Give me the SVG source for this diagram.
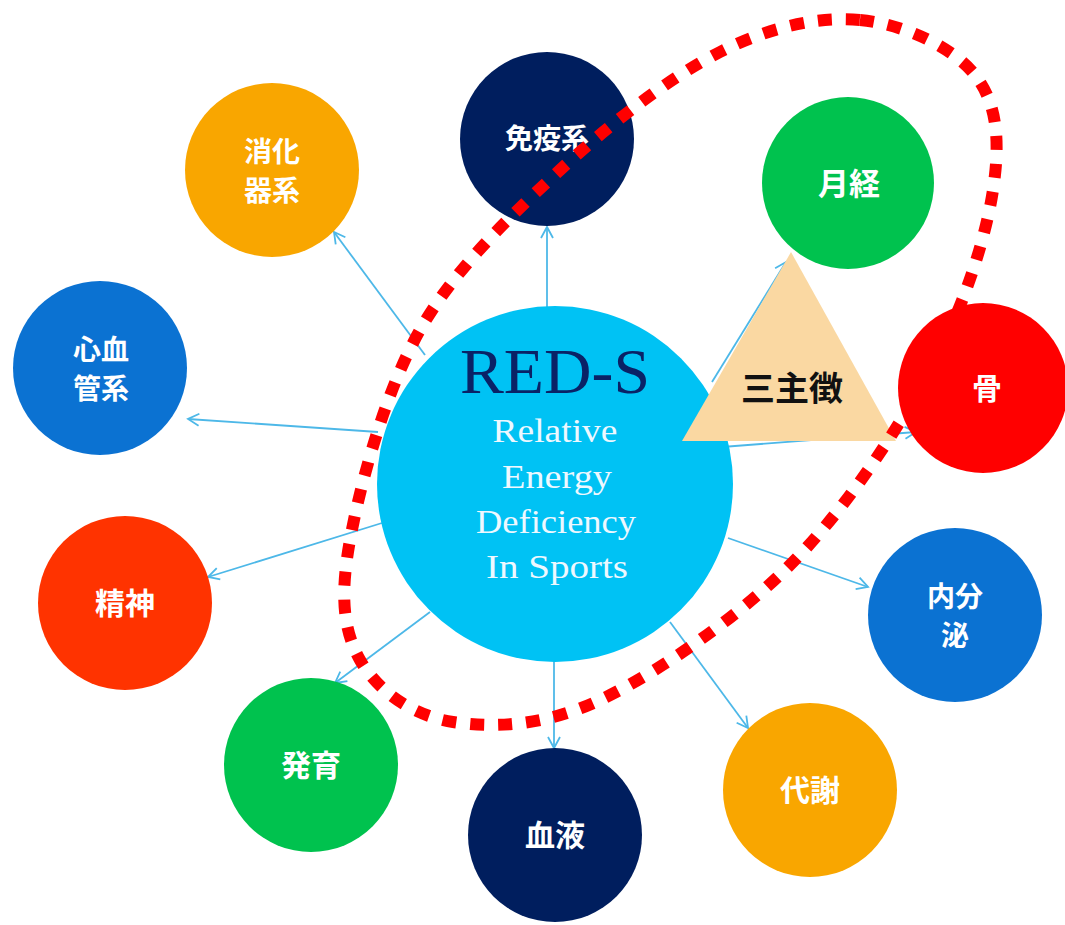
<svg xmlns="http://www.w3.org/2000/svg" width="1065" height="925" viewBox="0 0 1065 925">
<defs>
<marker id="ah" markerUnits="userSpaceOnUse" markerWidth="16" markerHeight="16" refX="13" refY="8" orient="auto">
<path d="M2,2 L13,8 L2,14" fill="none" stroke="#4db8e8" stroke-width="1.8"/>
</marker>
</defs>
<style>
.conn line{stroke:#4db8e8;stroke-width:1.8;fill:none;marker-end:url(#ah)}
.jp{font-family:"Noto Sans CJK JP","Noto Sans CJK SC",sans-serif;font-weight:700;fill:#fff;text-anchor:middle}
.en{font-family:"Liberation Serif",serif;fill:#eef8ff;text-anchor:middle;font-size:33px}
.navy{fill:#001e5e}.orange{fill:#f9a600}.green{fill:#00c24e}.blue{fill:#0b72d2}
</style>
<rect width="1065" height="925" fill="#fff"/>
<g id="connectors" class="conn">
<line x1="425" y1="355" x2="334" y2="232"/>
<line x1="547" y1="310" x2="547" y2="227"/>
<line x1="712" y1="382" x2="786" y2="262"/>
<line x1="722" y1="447" x2="916" y2="432"/>
<line x1="378" y1="432" x2="188" y2="419"/>
<line x1="382" y1="523" x2="208" y2="577"/>
<line x1="430" y1="612" x2="335" y2="683"/>
<line x1="554" y1="660" x2="554" y2="748"/>
<line x1="670" y1="622" x2="748" y2="728"/>
<line x1="728" y1="538" x2="868" y2="587"/>
</g>
<g id="center">
<circle cx="555" cy="484" r="178" fill="#00c2f4"/>
<text x="555" y="393" font-family="'Liberation Serif',serif" font-size="64" fill="#0a2266" text-anchor="middle" textLength="190" lengthAdjust="spacingAndGlyphs">RED-S</text>
<text class="en" x="555" y="442" textLength="125" lengthAdjust="spacingAndGlyphs">Relative</text>
<text class="en" x="557" y="488" textLength="110" lengthAdjust="spacingAndGlyphs">Energy</text>
<text class="en" x="556" y="533" textLength="160" lengthAdjust="spacingAndGlyphs">Deficiency</text>
<text class="en" x="557" y="578" textLength="142" lengthAdjust="spacingAndGlyphs">In Sports</text>
</g>
<g id="n-shoka"><circle cx="272" cy="170" r="87" class="orange"/><text class="jp" font-size="28"><tspan x="272" y="162">消化</tspan><tspan x="272" y="201">器系</tspan></text></g>
<g id="n-meneki"><circle cx="547" cy="139" r="87" class="navy"/><text class="jp" x="547" y="149" font-size="28">免疫系</text></g>
<g id="n-gekkei"><circle cx="848" cy="183" r="86" class="green"/><text class="jp" x="849" y="195" font-size="31">月経</text></g>
<g id="n-shinkekkan"><circle cx="100" cy="368" r="87" class="blue"/><text class="jp" font-size="28"><tspan x="101" y="360">心血</tspan><tspan x="101" y="399">管系</tspan></text></g>
<g id="n-hone"><circle cx="983" cy="388" r="85" fill="#ff0000"/><text class="jp" x="987" y="399" font-size="30">骨</text></g>
<g id="n-seishin"><circle cx="125" cy="603" r="87" fill="#ff3300"/><text class="jp" x="125" y="614" font-size="30">精神</text></g>
<g id="n-naibunpi"><circle cx="955" cy="615" r="87" class="blue"/><text class="jp" font-size="28"><tspan x="955" y="607">内分</tspan><tspan x="955" y="646">泌</tspan></text></g>
<g id="n-hatsuiku"><circle cx="311" cy="765" r="87" class="green"/><text class="jp" x="311" y="776" font-size="30">発育</text></g>
<g id="n-ketsueki"><circle cx="555" cy="835" r="87" class="navy"/><text class="jp" x="555" y="846" font-size="30">血液</text></g>
<g id="n-taisha"><circle cx="810" cy="790" r="87" class="orange"/><text class="jp" x="810" y="801" font-size="30">代謝</text></g>
<g id="triad">
<polygon points="791,252 682,441 896,441" fill="#fad8a2"/>
<text x="792" y="401" font-family="'Noto Sans CJK JP','Noto Sans CJK SC',sans-serif" font-weight="700" font-size="34" fill="#111" text-anchor="middle">三主徴</text>
</g>
<g id="highlight">
<path d="M860,20 C902.5,23.8 952.8,46.7 975,75 C997.2,103.3 1000.5,140.8 993,190 C985.5,239.2 963.8,307.5 930,370 C896.2,432.5 845,510 790,565 C735,620 656.2,673.5 600,700 C543.8,726.5 493,728 453,722 C413,716 377.2,690.7 360,660 C342.8,629.3 340,595 350,540 C360,485 385,391.7 420,330 C455,268.3 510,216.3 560,170 C610,123.7 670,77 720,52 C770,27 817.5,16.2 860,20 Z" fill="none" stroke="#ff0000" stroke-width="12" stroke-dasharray="14 14"/>
</g>
</svg>
